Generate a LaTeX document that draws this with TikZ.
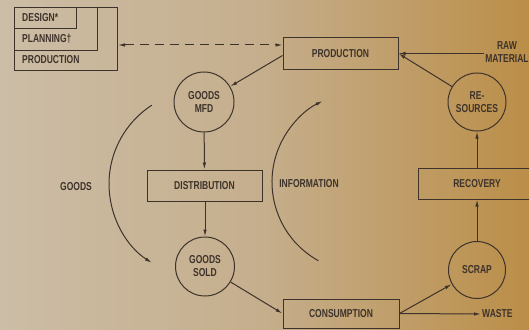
\documentclass[tikz,border=0pt]{standalone}
\usepackage{fontspec}
\setmainfont{Liberation Sans}[FakeStretch=0.74]
\usetikzlibrary{arrows.meta}
\definecolor{ink}{HTML}{3E332B}
\definecolor{bgl}{HTML}{CCBDA6}
\definecolor{bgm}{HTML}{C5AE8C}
\definecolor{bgr}{HTML}{BB8E48}
\begin{document}
\begin{tikzpicture}[x=1pt,y=1pt,
  txt/.style={text=ink, font=\fontsize{11.5}{13}\selectfont\bfseries},
  box/.style={txt, draw=ink, line width=1pt, rectangle, minimum width=115pt, minimum height=31pt, inner sep=0pt},
  circ/.style={txt, draw=ink, line width=1pt, circle, minimum size=60pt, inner sep=0pt, align=center},
  plain/.style={draw=ink, line width=1pt, rectangle, inner sep=0pt, anchor=north west},
  lbl/.style={txt, inner sep=1pt},
  arr/.style={draw=ink, line width=1pt, -{Latex[length=7pt,width=3.5pt]}},
  dasharr/.style={draw=ink, line width=1pt, dash pattern=on 9pt off 6pt, {Latex[length=7pt,width=3.5pt]}-{Latex[length=7pt,width=3.5pt]}}
]
\useasboundingbox (0,0) rectangle (529,-329);
\clip (0,0) rectangle (529,-329);
\shade[left color=bgl, right color=bgr, middle color=bgm] (0,0) rectangle (529,-329);

% stacked box
\node[plain, minimum width=103pt, minimum height=63pt] (stack) at (14,-7) {};
\node[plain, minimum width=83pt, minimum height=43pt] (plan) at (14,-7) {};
\node[plain, minimum width=62pt, minimum height=21pt] (des) at (14,-7) {};
\node[lbl, anchor=west] (tdes) at (21,-18) {DESIGN*};
\node[lbl, anchor=west] (tplan) at (21,-39) {PLANNING†};
\node[lbl, anchor=west] (tprod) at (21,-60) {PRODUCTION};

% boxes
\node[box] (prod) at (340.5,-53.5) {PRODUCTION};
\node[box] (dist) at (204.5,-185.5) {DISTRIBUTION};
\node[box, minimum width=116pt, minimum height=29pt] (cons) at (341,-313.5) {CONSUMPTION};
\node[box, minimum width=118pt] (rec) at (477,-183.5) {RECOVERY};

% circles
\node[circ] (mfd) at (204,-102) {GOODS\\MFD};
\node[circ, minimum size=59pt] (sold) at (205,-266.5) {GOODS\\SOLD};
\node[circ, minimum size=58pt] (res) at (477,-102) {RE-\\SOURCES};
\node[circ, minimum size=57pt] (scrap) at (477,-270) {SCRAP};

% labels
\node[lbl, align=center] (raw) at (507,-52.5) {RAW\\MATERIAL};
\node[lbl, anchor=west] (waste) at (481,-314) {WASTE};
\node[lbl] (goods) at (76,-187) {GOODS};
\node[lbl] (info) at (309,-184) {INFORMATION};

\coordinate (dl) at (0,-45);

% connectors
\draw[dasharr] (stack.east |- dl) -- (prod.west |- dl);
\draw[arr] (prod.west) ++(0,-2) -- (mfd);
\draw[arr] (mfd) -- (dist);
\draw[arr] (dist.south -| sold) -- (sold);
\draw[arr] (sold) -- (cons.west);
\draw[arr] (cons.east) -- (scrap);
\draw[arr] (cons.east) -- (waste.west);
\draw[arr] (scrap) -- (rec);
\draw[arr] (rec) -- (res);
\draw[arr] (res) -- (prod.east);
\draw[arr] (raw.west |- prod.east) -- (prod.east);

% arcs
\draw[arr] (203,-184) ++(123:94) arc[start angle=123, end angle=237, radius=94];
\draw[arr] (362,-182) ++(241:90) arc[start angle=241, end angle=116, radius=90];
\end{tikzpicture}
\end{document}
